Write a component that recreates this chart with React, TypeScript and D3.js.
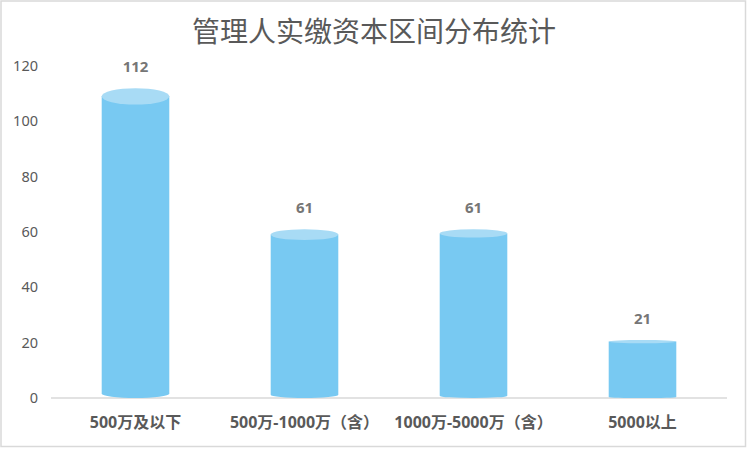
import React from "react";
import * as d3 from "d3";

const title = "管理人实缴资本区间分布统计";
const categories = ["500万及以下", "500万-1000万（含）", "1000万-5000万（含）", "5000以上"];
const values = [112, 61, 61, 21];
const yTicks = [0, 20, 40, 60, 80, 100, 120];

const W = 748;
const H = 450;
const plot = { left: 51, right: 727, top: 66, bottom: 398 };

export default function App() {
  const x = d3.scaleBand<string>().domain(categories).range([plot.left, plot.right]).paddingInner(0.6).paddingOuter(0.3);
  const y = d3.scaleLinear().domain([0, 120]).range([plot.bottom, plot.top]);
  const bw = x.bandwidth();
  const centers = categories.map((c) => (x(c) as number) + bw / 2);
  const tiltBottom = d3.scaleLinear().domain([centers[0], centers[centers.length - 1]]).range([4.5, 1]);
  const font = "'Noto Sans', 'Noto Sans CJK SC', sans-serif";

  return (
    <svg width={W} height={H} style={{ position: "absolute", left: 0, top: 0, background: "#fff" }}>
      <rect x={1} y={1} width={744.5} height={445.5} fill="#fff" stroke="#d9d9d9" strokeWidth={1.5} />
      <text x={374} y={42} textAnchor="middle" fontSize={28} fill="#595959" fontFamily="'Noto Sans CJK SC', sans-serif">
        {title}
      </text>
      {yTicks.map((t) => (
        <text key={t} x={38} y={y(t)} dy="0.35em" textAnchor="end" fontSize={14.5} fill="#595959" fontFamily={font}>
          {t}
        </text>
      ))}
      <line x1={plot.left} x2={plot.right} y1={plot.bottom} y2={plot.bottom} stroke="#d9d9d9" strokeWidth={1.5} />
      {categories.map((c, i) => {
        const cx = centers[i];
        const rx = bw / 2;
        const yv = y(values[i]);
        const y0 = y(0);
        const ryB = tiltBottom(cx);
        const ryT = ryB + 0.012 * (y0 - yv);
        const topC = yv + ryT;
        const botC = y0 - ryB;
        const body = `M${cx - rx},${topC} L${cx - rx},${botC} A${rx},${ryB} 0 0 0 ${cx + rx},${botC} L${cx + rx},${topC} Z`;
        return (
          <g key={c}>
            <path d={body} fill="#78c9f2" />
            <ellipse cx={cx} cy={topC} rx={rx} ry={ryT} fill="#a8dbf5" />
            <text x={cx} y={yv - 16} textAnchor="middle" fontSize={15} fontWeight="bold" fill="#767676" fontFamily={font}>
              {values[i]}
            </text>
            <text x={cx} y={428} textAnchor="middle" fontSize={16} fontWeight="bold" fill="#595959" fontFamily={font}>
              {c}
            </text>
          </g>
        );
      })}
    </svg>
  );
}
